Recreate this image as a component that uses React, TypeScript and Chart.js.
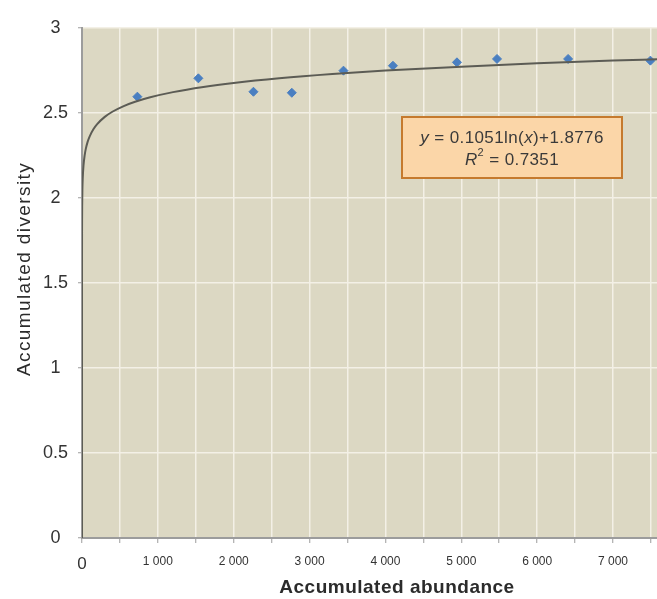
import React, { useEffect, useRef } from 'react';
import { Chart, registerables } from 'chart.js';

Chart.register(...registerables);

// ---- data ----
const abundance = [730, 1534, 2260, 2766, 3447, 4099, 4943, 5471, 6408, 7493];
const diversity = [2.596, 2.704, 2.625, 2.619, 2.749, 2.778, 2.798, 2.818, 2.818, 2.808];

// logarithmic trendline shown in the chart: y = a ln(x) + b
const trendSlope = 0.1051;
const trendIntercept = 1.8776;
const rSquared = 0.7351;
const trendSampleX = [1e-8, 1e-6, 1e-4, 0.001, 0.01, 0.1, 0.5, 1, 2, 5, 10, 20, 35, 50, 75, 100, 150, 200, 300, 400, 550, 700, 900, 1200, 1600, 2000, 2600, 3300, 4000, 5000, 6000, 7000, 7580];

// x gridlines every 500, labels every 1000
const xGridValues = [0, 500, 1000, 1500, 2000, 2500, 3000, 3500, 4000, 4500, 5000, 5500, 6000, 6500, 7000, 7500];
const xTickValues = [0, 1000, 2000, 3000, 4000, 5000, 6000, 7000];
const xTickLabels = ['0', '1 000', '2 000', '3 000', '4 000', '5 000', '6 000', '7 000'];
const yTickValues = [0, 0.5, 1, 1.5, 2, 2.5, 3];
const yTickLabels = ['0', '0.5', '1', '1.5', '2', '2.5', '3'];

const xTitle = 'Accumulated abundance';
const yTitle = 'Accumulated diversity';

const FONT = '"Liberation Sans", Arial, sans-serif';

const bgPlugin = {
  id: 'bgPlugin',
  beforeDraw(chart: any) {
    const { ctx, chartArea: a, width, height } = chart;
    ctx.save();
    ctx.fillStyle = '#ffffff';
    ctx.fillRect(0, 0, width, height);
    ctx.fillStyle = '#dcd8c3';
    ctx.fillRect(a.left, a.top, a.right - a.left, a.bottom - a.top);
    ctx.restore();
  },
};

const titlesPlugin = {
  id: 'titlesPlugin',
  afterDraw(chart: any) {
    const { ctx, chartArea: a } = chart;
    ctx.save();
    ctx.fillStyle = '#2b2b2b';
    ctx.textAlign = 'center';
    ctx.textBaseline = 'middle';
    // x title
    ctx.font = `bold 19px ${FONT}`;
    (ctx as any).letterSpacing = '0.5px';
    ctx.fillText(xTitle, 397, 588);
    // y title
    ctx.translate(25, (a.top + a.bottom) / 2 - 14);
    ctx.rotate(-Math.PI / 2);
    ctx.font = `19px ${FONT}`;
    (ctx as any).letterSpacing = '1.4px';
    ctx.fillText(yTitle, 0, 0);
    ctx.restore();
  },
};

type Part = { t: string; italic?: boolean; sup?: boolean };

function drawParts(ctx: CanvasRenderingContext2D, parts: Part[], cx: number, cy: number, size: number) {
  const fontFor = (p: Part) => `${p.italic ? 'italic ' : ''}${p.sup ? Math.round(size * 0.65) : size}px ${FONT}`;
  let total = 0;
  const widths = parts.map((p) => {
    ctx.font = fontFor(p);
    const w = ctx.measureText(p.t).width;
    total += w;
    return w;
  });
  let x = cx - total / 2;
  parts.forEach((p, i) => {
    ctx.font = fontFor(p);
    ctx.fillText(p.t, x, p.sup ? cy - size * 0.4 : cy);
    x += widths[i];
  });
}

const equationPlugin = {
  id: 'equationPlugin',
  afterDatasetsDraw(chart: any) {
    const { ctx, chartArea: a } = chart;
    const left = a.left + 320;
    const top = a.top + 89;
    const w = 220;
    const h = 61;
    ctx.save();
    ctx.fillStyle = '#fbd6a8';
    ctx.fillRect(left, top, w, h);
    ctx.strokeStyle = '#c57a2e';
    ctx.lineWidth = 2;
    ctx.strokeRect(left, top, w, h);
    ctx.fillStyle = '#3a3a3a';
    ctx.textAlign = 'left';
    ctx.textBaseline = 'middle';
    (ctx as any).letterSpacing = '0.4px';
    const cx = left + w / 2;
    drawParts(
      ctx,
      [
        { t: 'y', italic: true },
        { t: ` = ${trendSlope}ln(` },
        { t: 'x', italic: true },
        { t: `)+${trendIntercept}` },
      ],
      cx,
      top + 21,
      17
    );
    drawParts(
      ctx,
      [{ t: 'R', italic: true }, { t: '2', sup: true }, { t: ` = ${rSquared}` }],
      cx,
      top + 43,
      17
    );
    ctx.restore();
  },
};

export default function App() {
  const ref = useRef<HTMLCanvasElement | null>(null);

  useEffect(() => {
    if (!ref.current) return;
    const points = abundance.map((x, i) => ({ x, y: diversity[i] }));
    const trend = trendSampleX.map((x) => ({ x, y: trendSlope * Math.log(x) + trendIntercept }));

    const chart = new Chart(ref.current, {
      type: 'scatter',
      data: {
        datasets: [
          {
            label: 'Trendline',
            data: trend,
            showLine: true,
            borderColor: '#5c5c55',
            borderWidth: 2,
            pointRadius: 0,
            cubicInterpolationMode: 'monotone',
          } as any,
          {
            label: 'Accumulated diversity',
            data: points,
            pointStyle: 'rectRot',
            pointRadius: 4.5,
            backgroundColor: '#4a7fc1',
            borderColor: '#4a7fc1',
            borderWidth: 1,
          } as any,
        ],
      },
      options: {
        responsive: false,
        devicePixelRatio: 1,
        animation: false,
        layout: { autoPadding: false, padding: { top: 28, left: 0, right: 0, bottom: 0 } },
        plugins: {
          legend: { display: false },
          tooltip: { enabled: false },
          title: { display: false },
        },
        scales: {
          x: {
            type: 'linear',
            min: 0,
            max: 7580,
            afterBuildTicks(s: any) {
              s.ticks = xGridValues.map((v) => ({ value: v }));
            },
            afterFit(s: any) {
              s.height = 61;
              s.paddingRight = 0;
              s.paddingLeft = 0;
            },
            border: { color: '#9c9c9c', width: 2 },
            grid: {
              color: '#f3f0e6',
              lineWidth: 1.5,
              tickColor: '#9c9c9c',
              tickLength: 5,
              tickWidth: 1,
            },
            ticks: {
              autoSkip: false,
              maxRotation: 0,
              padding: 11,
              color: '#333333',
              font: (c: any) => ({ family: FONT, size: c.tick && c.tick.value === 0 ? 17 : 12 }),
              callback: (v: any) => {
                const i = xTickValues.indexOf(Number(v));
                return i >= 0 ? xTickLabels[i] : '';
              },
            },
          },
          y: {
            type: 'linear',
            min: 0,
            max: 3,
            afterFit(s: any) {
              s.width = 82;
            },
            border: { color: '#9c9c9c', width: 2 },
            grid: {
              color: '#f3f0e6',
              lineWidth: 1.5,
              tickColor: '#9c9c9c',
              tickLength: 4,
              tickWidth: 1,
            },
            ticks: {
              stepSize: 0.5,
              autoSkip: false,
              padding: 10,
              crossAlign: 'center',
              color: '#333333',
              font: { family: FONT, size: 18 },
              callback: (v: any) => {
                const i = yTickValues.indexOf(Number(v));
                return i >= 0 ? yTickLabels[i] : '';
              },
            },
          },
        },
      } as any,
      plugins: [bgPlugin, titlesPlugin, equationPlugin],
    });
    return () => chart.destroy();
  }, []);

  return (
    <div style={{ position: 'fixed', left: 0, top: 0, width: 657, height: 599, background: '#fff' }}>
      <canvas ref={ref} width={657} height={599} style={{ display: 'block' }} />
    </div>
  );
}
